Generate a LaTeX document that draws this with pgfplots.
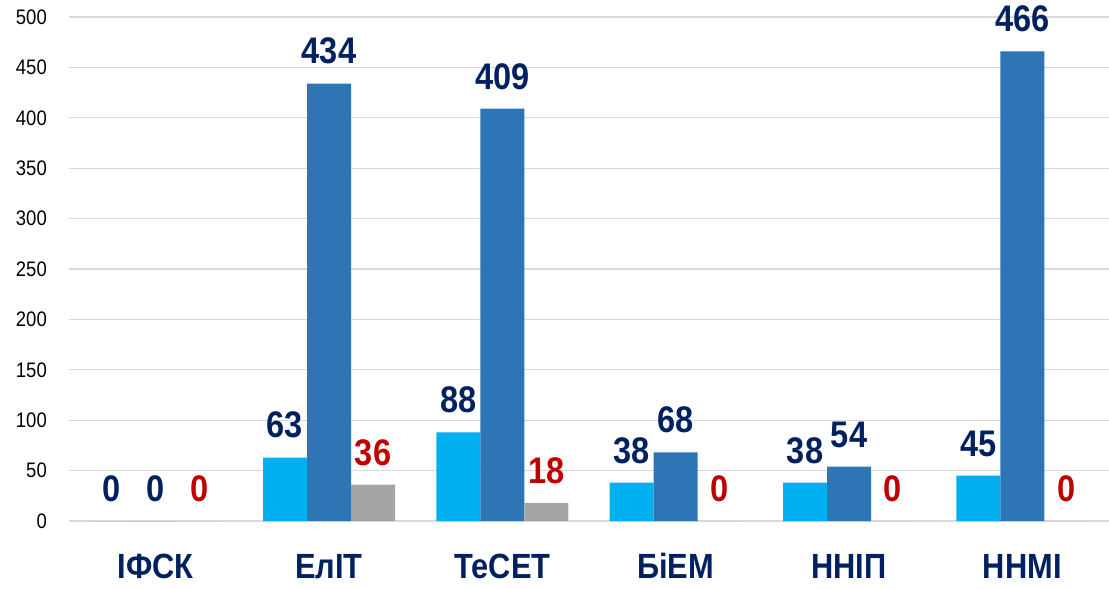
\documentclass[border=0pt]{standalone}
\usepackage{fontspec}
\setmainfont{Liberation Sans}
\newfontfamily\lab{Liberation Sans}[FakeStretch=0.88]
\usepackage{pgfplots}
\pgfplotsset{compat=1.18}
\definecolor{lb}{HTML}{00B0F0}
\definecolor{db}{HTML}{2E75B6}
\definecolor{gr}{HTML}{A5A5A5}
\definecolor{navy}{HTML}{002060}
\definecolor{rd}{HTML}{C00000}
\definecolor{gridc}{HTML}{D9D9D9}
\begin{document}
\begin{tikzpicture}
\begin{axis}[
  scale only axis, width=1040pt, height=504pt,
  ymin=0, ymax=500, xmin=-0.5, xmax=5.5,
  ybar=0pt, bar width=44pt,
  ytick={0,50,...,500},
  xtick={0,1,2,3,4,5},
  xticklabels={ІФСК,ЕлІТ,ТеСЕТ,БіЕМ,ННІП,ННМІ},
  axis line style={draw=none},
  major tick length=0pt,
  ymajorgrids, grid style={draw=gridc, line width=1.3pt},
  yticklabel style={font=\fontsize{21}{21}\selectfont\lab, text=black, anchor=east, inner sep=0pt, xshift=-22pt},
  xticklabel style={font=\fontsize{35}{35}\selectfont\lab\bfseries, text=navy, anchor=base, inner sep=0pt, yshift=-57pt},
  /pgf/number format/assume math mode=true,
  nodes near coords,
  nodes near coords style={font=\fontsize{37}{37}\selectfont\lab\bfseries, text=navy, anchor=south, inner sep=0pt, yshift=19pt},
  clip=false,
]
\addplot[fill=lb, draw=none] coordinates {(0,0) (1,63) (2,88) (3,38) (4,38) (5,45)};
\addplot[fill=db, draw=none] coordinates {(0,0) (1,434) (2,409) (3,68) (4,54) (5,466)};
\addplot[fill=gr, draw=none, every node near coord/.append style={text=rd}] coordinates {(0,0) (1,36) (2,18) (3,0) (4,0) (5,0)};
\coordinate (tl) at (rel axis cs:0,1);
\coordinate (br) at (rel axis cs:1,0);
\end{axis}
\pgfresetboundingbox
\path[use as bounding box] ([xshift=-69pt,yshift=17pt]tl) rectangle ([yshift=-67pt]br);
\end{tikzpicture}
\end{document}
